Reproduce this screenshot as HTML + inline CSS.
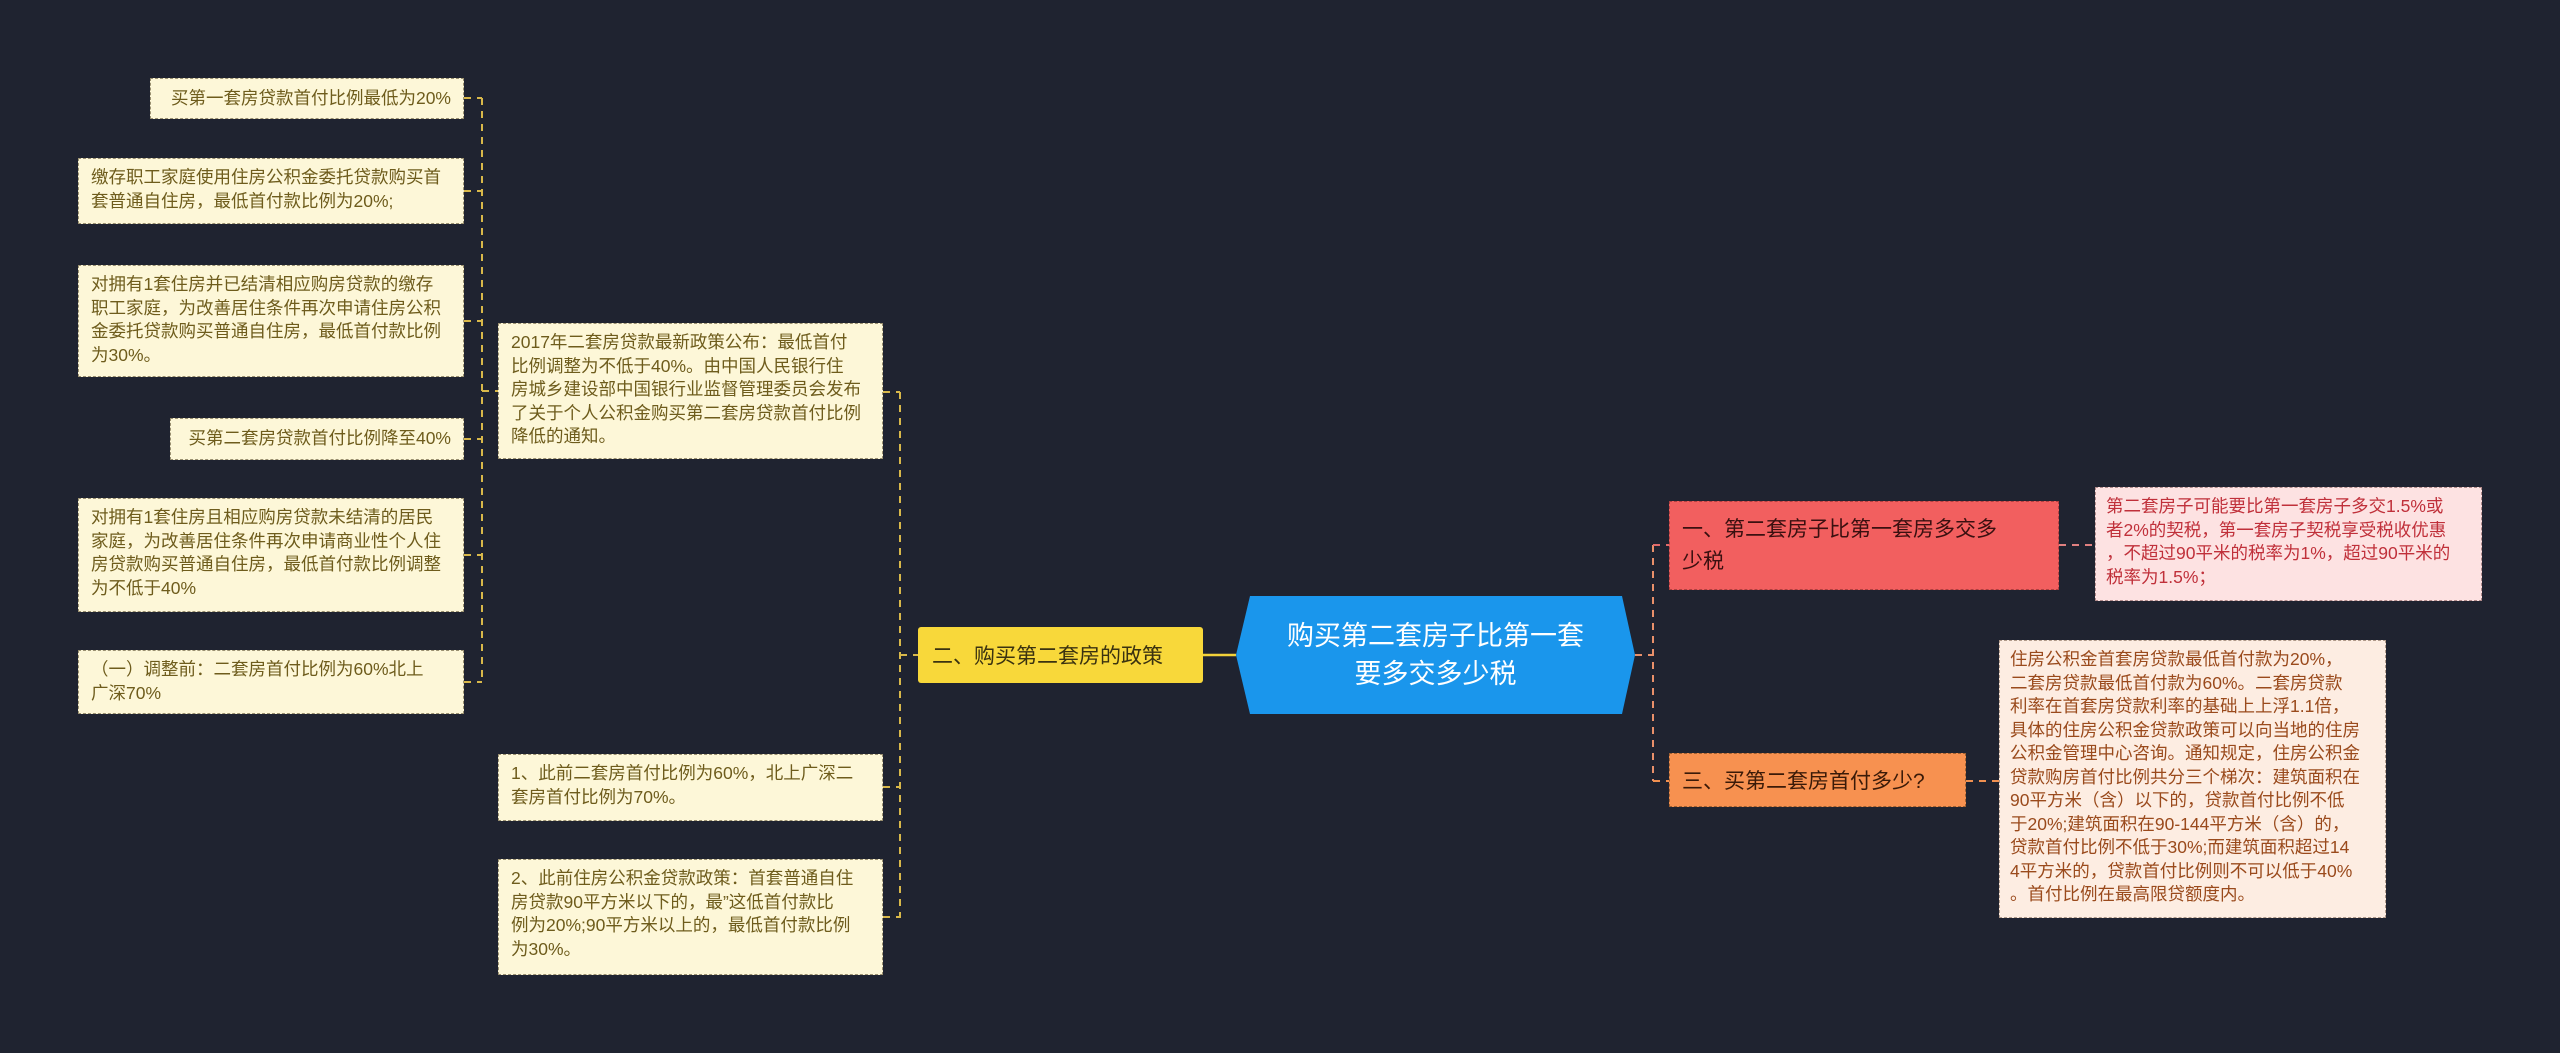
<!DOCTYPE html>
<html><head><meta charset="utf-8"><style>
html,body{margin:0;padding:0;}
body{width:2560px;height:1053px;background:#1f2330;position:relative;overflow:hidden;font-family:"Liberation Sans","Noto Sans CJK SC",sans-serif;}
.b{position:absolute;box-sizing:border-box;border:1.5px dashed #9a9070;background:#fdf7d8;color:#6e5c1c;font-size:17.5px;line-height:23.5px;padding:7px 12px;}
.n{position:absolute;box-sizing:border-box;display:flex;align-items:center;}
svg{position:absolute;left:0;top:0;}
</style></head><body>
<svg width="2560" height="1053">
<g fill="none" stroke="#d8b84a" stroke-width="2" stroke-dasharray="7,6">
<line x1="482" y1="98" x2="482" y2="682"/>
<line x1="464" y1="98" x2="482" y2="98"/>
<line x1="464" y1="191" x2="482" y2="191"/>
<line x1="464" y1="321" x2="482" y2="321"/>
<line x1="464" y1="439" x2="482" y2="439"/>
<line x1="464" y1="555" x2="482" y2="555"/>
<line x1="464" y1="682" x2="482" y2="682"/>
<line x1="482" y1="391" x2="498" y2="391"/>
<line x1="900" y1="392" x2="900" y2="918"/>
<line x1="883" y1="392" x2="900" y2="392"/>
<line x1="883" y1="787" x2="900" y2="787"/>
<line x1="883" y1="917" x2="900" y2="917"/>
<line x1="900" y1="655" x2="918" y2="655"/>
</g>
<line x1="1203" y1="655" x2="1236" y2="655" stroke="#f2d23a" stroke-width="2.5"/>
<g fill="none" stroke-width="2" stroke-dasharray="7,6">
<line x1="1635" y1="655" x2="1653" y2="655" stroke="#e9906a"/>
<line x1="1653" y1="545" x2="1653" y2="781" stroke="#e9906a"/>
<line x1="1653" y1="545" x2="1669" y2="545" stroke="#e06a6a"/>
<line x1="1653" y1="781" x2="1669" y2="781" stroke="#f09050"/>
<line x1="2059" y1="545" x2="2095" y2="545" stroke="#e08080"/>
<line x1="1966" y1="781" x2="1999" y2="781" stroke="#f09050"/>
</g>
</svg>

<div class="b" style="left:150px;top:78px;width:314px;height:41px;text-align:right;padding-top:8px;">买第一套房贷款首付比例最低为20%</div>
<div class="b" style="left:78px;top:158px;width:386px;height:66px;">缴存职工家庭使用住房公积金委托贷款购买首<br>套普通自住房，最低首付款比例为20%;</div>
<div class="b" style="left:78px;top:265px;width:386px;height:112px;">对拥有1套住房并已结清相应购房贷款的缴存<br>职工家庭，为改善居住条件再次申请住房公积<br>金委托贷款购买普通自住房，最低首付款比例<br>为30%。</div>
<div class="b" style="left:170px;top:418px;width:294px;height:42px;text-align:right;padding-top:8px;">买第二套房贷款首付比例降至40%</div>
<div class="b" style="left:78px;top:498px;width:386px;height:114px;">对拥有1套住房且相应购房贷款未结清的居民<br>家庭，为改善居住条件再次申请商业性个人住<br>房贷款购买普通自住房，最低首付款比例调整<br>为不低于40%</div>
<div class="b" style="left:78px;top:650px;width:386px;height:64px;">（一）调整前：二套房首付比例为60%北上<br>广深70%</div>

<div class="b" style="left:498px;top:323px;width:385px;height:136px;">2017年二套房贷款最新政策公布：最低首付<br>比例调整为不低于40%。由中国人民银行住<br>房城乡建设部中国银行业监督管理委员会发布<br>了关于个人公积金购买第二套房贷款首付比例<br>降低的通知。</div>
<div class="b" style="left:498px;top:754px;width:385px;height:67px;">1、此前二套房首付比例为60%，北上广深二<br>套房首付比例为70%。</div>
<div class="b" style="left:498px;top:859px;width:385px;height:116px;">2、此前住房公积金贷款政策：首套普通自住<br>房贷款90平方米以下的，最”这低首付款比<br>例为20%;90平方米以上的，最低首付款比例<br>为30%。</div>

<div class="n" style="left:918px;top:627px;width:285px;height:56px;background:#f8d83a;border-radius:3px;color:#3a3210;font-size:21px;padding-left:14px;">二、购买第二套房的政策</div>

<svg width="2560" height="1053" style="pointer-events:none"><polygon points="1250,596 1622,596 1635,655 1622,714 1250,714 1236,655" fill="#1a96ec"/></svg>
<div class="n" style="left:1236px;top:596px;width:399px;height:118px;justify-content:center;text-align:center;color:#fff;font-size:27px;line-height:38px;">购买第二套房子比第一套<br>要多交多少税</div>

<div class="n" style="left:1669px;top:501px;width:390px;height:89px;background:#f25f5f;border:1.5px dashed #b04040;color:#3a1010;font-size:21px;line-height:32px;padding-left:12px;">一、第二套房子比第一套房多交多<br>少税</div>
<div class="b" style="left:2095px;top:487px;width:387px;height:114px;background:#fde2e2;border-color:#b08a8a;color:#c0303a;padding-left:10px;">第二套房子可能要比第一套房子多交1.5%或<br>者2%的契税，第一套房子契税享受税收优惠<br>，不超过90平米的税率为1%，超过90平米的<br>税率为1.5%；</div>

<div class="n" style="left:1669px;top:753px;width:297px;height:54px;background:#f79150;border:1.5px dashed #a06030;color:#3a1a08;font-size:21px;padding-left:12px;">三、买第二套房首付多少?</div>
<div class="b" style="left:1999px;top:640px;width:387px;height:278px;background:#fdede2;border-color:#b09a8a;color:#9a4a1c;padding-left:10px;">住房公积金首套房贷款最低首付款为20%，<br>二套房贷款最低首付款为60%。二套房贷款<br>利率在首套房贷款利率的基础上上浮1.1倍，<br>具体的住房公积金贷款政策可以向当地的住房<br>公积金管理中心咨询。通知规定，住房公积金<br>贷款购房首付比例共分三个梯次：建筑面积在<br>90平方米（含）以下的，贷款首付比例不低<br>于20%;建筑面积在90-144平方米（含）的，<br>贷款首付比例不低于30%;而建筑面积超过14<br>4平方米的，贷款首付比例则不可以低于40%<br>。首付比例在最高限贷额度内。</div>
</body></html>
